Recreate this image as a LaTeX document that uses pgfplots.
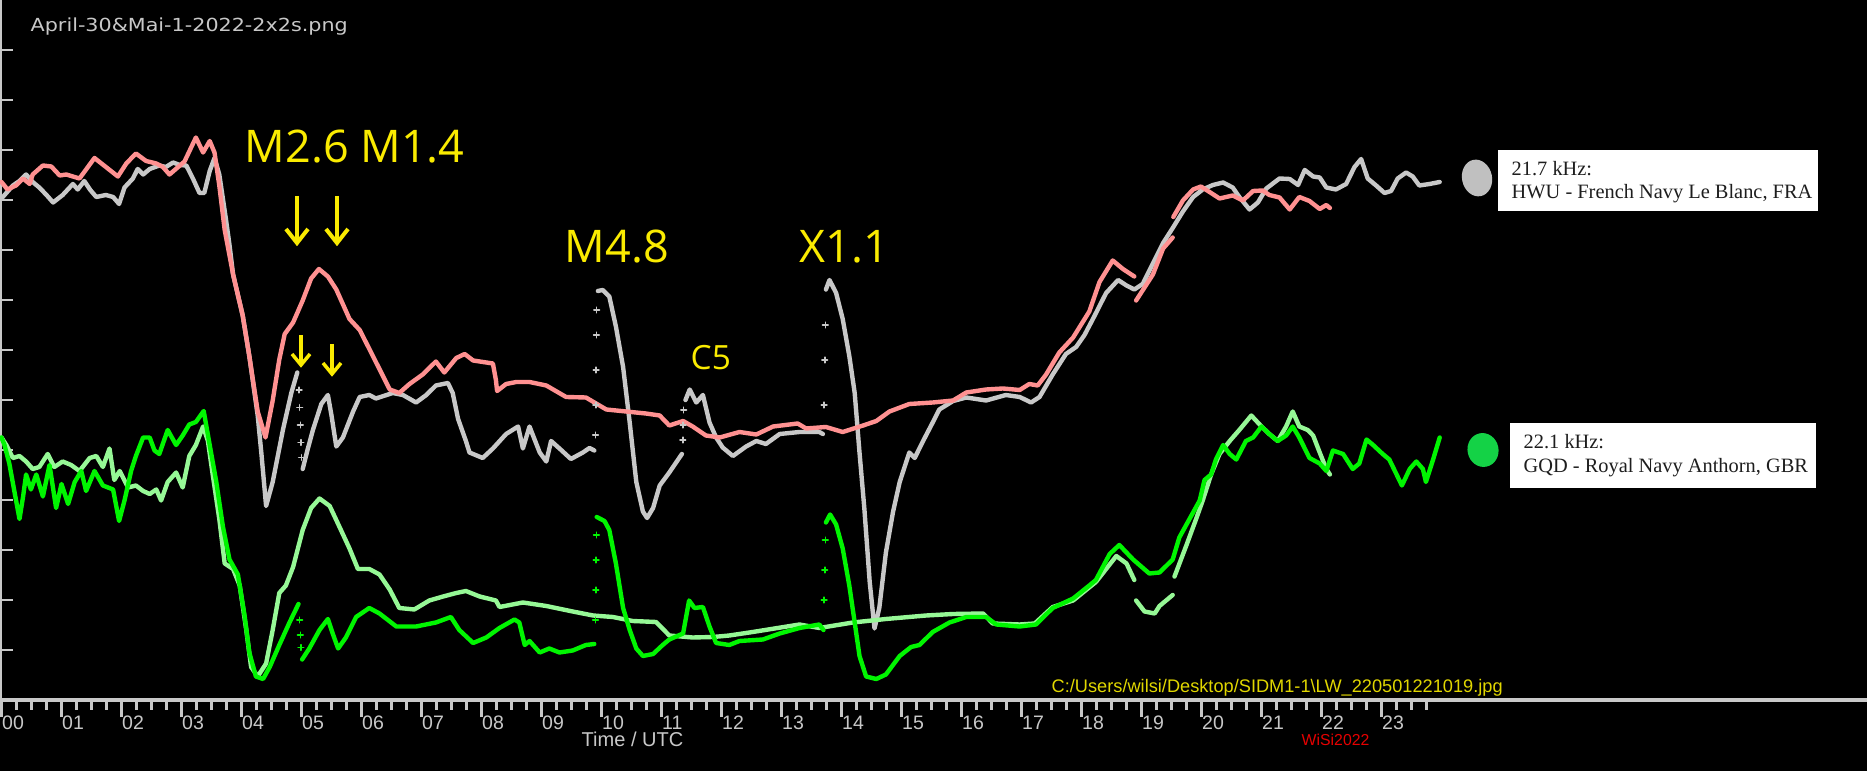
\documentclass[border=0pt]{standalone}
\usepackage{pgfplots}
\pgfplotsset{compat=1.18}
\usepackage{fontspec}
\setmainfont{Liberation Serif}
\newfontfamily\lsans{Liberation Sans}
\newfontfamily\dvsans{DejaVu Sans}
\newfontfamily\osans{Open Sans}
\definecolor{axgray}{RGB}{200,200,200}
\definecolor{cpink}{RGB}{255,145,145}
\definecolor{cgray}{RGB}{200,200,200}
\definecolor{clgreen}{RGB}{150,248,150}
\definecolor{cgreen}{RGB}{0,245,0}
\definecolor{cyel}{RGB}{250,235,0}
\definecolor{cyel2}{RGB}{225,215,0}
\definecolor{cred}{RGB}{230,0,0}
\definecolor{elgray}{RGB}{192,192,192}
\definecolor{elgreen}{RGB}{20,210,70}
\definecolor{legtext}{RGB}{30,30,30}
\begin{document}
\begin{tikzpicture}
\fill[black] (0,0) rectangle (186.7mm,77.1mm);
\useasboundingbox (0,0) rectangle (186.7mm,77.1mm);
\begin{axis}[
  at={(0mm,7.1mm)}, anchor=south west,
  scale only axis, width=186.7mm, height=70mm,
  xmin=-0.025, xmax=31.0917, ymin=0, ymax=14,
  axis x line=bottom, axis y line=left,
  x axis line style={-}, y axis line style={-},
  axis line style={draw=axgray, line width=0.9pt},
  xtick={0,...,23},
  xticklabels={00,01,02,03,04,05,06,07,08,09,10,11,12,13,14,15,16,17,18,19,20,21,22,23},
  minor xtick={0,0.25,...,23.75},
  ytick={1,...,13}, yticklabels={},
  xtick align=outside, ytick align=inside,
  xtick style={axgray, line width=0.6pt, /pgfplots/major tick length=1.7mm, /pgfplots/minor tick length=1.0mm},
  ytick style={axgray, line width=0.6pt, /pgfplots/major tick length=1.3mm},
  xticklabel style={font=\lsans\fontsize{5.55}{6}\selectfont, text=axgray, anchor=north west, inner sep=0pt},
  every axis plot/.append style={line join=round, line cap=round},
  unbounded coords=jump,
  clip=false,
]
% gray (HWU, flare day)
\addplot[cgray, line width=1.25pt] coordinates {
(0,10.03) (0.08,10.14) (0.19,10.29) (0.30,10.38) (0.41,10.51) (0.52,10.36) (0.63,10.25) (0.75,10.10) (0.86,9.95) (1.02,10.10) (1.19,10.32) (1.27,10.21) (1.38,10.38) (1.48,10.20) (1.58,10.06) (1.74,10.10) (1.86,10.06) (1.96,9.92) (2.05,10.25) (2.19,10.43) (2.27,10.62) (2.36,10.51) (2.47,10.62) (2.63,10.69) (2.74,10.66) (2.86,10.75) (2.97,10.70) (3.08,10.69) (3.19,10.43) (3.30,10.14) (3.38,10.14) (3.47,10.58) (3.55,10.84) (3.63,10.51) (3.74,9.62) (3.80,9.10) (3.86,8.51) (3.94,8.10) (4.02,7.69) (4.13,6.88) (4.27,5.69) (4.33,4.95) (4.41,3.88) (4.52,4.36) (4.69,5.40) (4.83,6.14) (4.93,6.55)
(4.94,nan)
(5.02,4.62) (5.10,5.00) (5.19,5.40) (5.33,5.92) (5.44,6.10) (5.50,5.69) (5.55,5.30) (5.58,5.07) (5.69,5.25) (5.86,5.77) (5.97,6.06) (6.13,6.10) (6.24,6.03) (6.52,6.14) (6.69,6.10) (6.91,5.95) (7.08,6.10) (7.24,6.29) (7.44,6.34) (7.52,6.14) (7.61,5.62) (7.74,5.18) (7.80,4.95) (8.02,4.84) (8.19,5.03) (8.41,5.32) (8.61,5.47) (8.69,5.03) (8.80,5.47) (8.97,4.95) (9.08,4.77) (9.16,5.18) (9.30,5.03) (9.49,4.82) (9.69,4.95) (9.80,5.04) (9.88,4.99)
(9.89,nan)
(9.94,8.18) (10.02,8.20) (10.13,8.07) (10.24,7.47) (10.36,6.66) (10.47,5.55) (10.58,4.36) (10.69,3.77) (10.76,3.64) (10.86,3.84) (10.97,4.29) (11.13,4.55) (11.34,4.92)
(11.35,nan)
(11.40,6.0) (11.47,6.21) (11.58,5.95) (11.69,6.10) (11.80,5.55) (11.91,5.25) (12.02,5.05) (12.19,4.88) (12.41,5.07) (12.58,5.18) (12.74,5.12) (12.97,5.32) (13.30,5.36) (13.63,5.36) (13.69,5.32)
(13.70,nan)
(13.74,8.21) (13.80,8.40) (13.91,8.14) (14.02,7.62) (14.13,6.88) (14.22,6.14) (14.30,4.95) (14.38,3.84) (14.47,2.36) (14.55,1.43) (14.63,1.84) (14.74,2.95) (14.86,3.77) (14.97,4.36) (15.13,4.95) (15.22,4.84) (15.36,5.18) (15.52,5.55) (15.63,5.81) (15.86,5.98) (16.08,6.05) (16.41,5.99) (16.74,6.10) (16.97,6.06) (17.16,5.95) (17.30,6.06) (17.52,6.51) (17.74,6.92) (17.91,7.06) (18.05,7.30) (18.19,7.62) (18.41,8.14) (18.61,8.40) (18.75,8.29) (18.88,8.21) (19.02,8.32) (19.19,8.73) (19.36,9.14) (19.52,9.44) (19.69,9.77) (19.86,10.06) (20.02,10.21) (20.19,10.30) (20.36,10.35) (20.52,10.25) (20.63,10.06) (20.80,9.81) (20.94,9.95) (21.08,10.23) (21.30,10.43) (21.47,10.42) (21.61,10.30) (21.72,10.60) (21.86,10.47) (21.97,10.45) (22.08,10.25) (22.24,10.21) (22.41,10.32) (22.55,10.66) (22.66,10.82) (22.77,10.43) (22.91,10.29) (23.05,10.14) (23.16,10.18) (23.27,10.43) (23.41,10.55) (23.52,10.47) (23.63,10.29) (23.80,10.32) (23.97,10.36)
};
\addplot[cgray, only marks, mark=+, mark size=0.8pt, mark options={line width=0.45pt}] coordinates {
(4.96,6.2) (4.97,5.85) (4.98,5.5) (4.99,5.15) (5.00,4.85)
(9.90,5.3) (9.905,5.9) (9.91,6.6) (9.915,7.3) (9.92,7.8)
(11.355,5.2) (11.36,5.5) (11.37,5.8)
(13.71,5.9) (13.72,6.8) (13.73,7.5)
};
% pink (HWU, other day)
\addplot[cpink, line width=1.25pt] coordinates {
(0,10.36) (0.10,10.21) (0.24,10.29) (0.36,10.43) (0.47,10.32) (0.52,10.51) (0.69,10.69) (0.83,10.67) (0.97,10.49) (1.08,10.51) (1.30,10.43) (1.55,10.84) (1.74,10.66) (1.94,10.47) (2.08,10.73) (2.24,10.93) (2.41,10.78) (2.58,10.73) (2.69,10.66) (2.80,10.51) (3.05,10.77) (3.24,11.25) (3.36,10.95) (3.47,11.18) (3.55,10.95) (3.63,10.29) (3.72,9.40) (3.86,8.51) (4.02,7.69) (4.13,6.88) (4.27,5.77) (4.40,5.25) (4.52,5.99) (4.63,6.81) (4.72,7.32) (4.86,7.55) (5.02,7.99) (5.16,8.43) (5.29,8.62) (5.44,8.47) (5.58,8.21) (5.80,7.62) (5.97,7.40) (6.19,6.88) (6.47,6.21) (6.63,6.14) (6.80,6.32) (7.02,6.51) (7.24,6.77) (7.38,6.55) (7.58,6.84) (7.72,6.92) (7.86,6.79) (8.19,6.73) (8.24,6.40) (8.26,6.18) (8.41,6.32) (8.58,6.36) (8.80,6.36) (9.08,6.29) (9.41,6.06) (9.74,6.05) (10.08,5.81) (10.41,5.77) (10.74,5.73) (10.97,5.69) (11.13,5.49) (11.36,5.58) (11.52,5.47) (11.74,5.29) (11.97,5.25) (12.30,5.36) (12.58,5.31) (12.86,5.47) (13.27,5.53) (13.41,5.43) (13.74,5.46) (14.02,5.36) (14.36,5.49) (14.58,5.58) (14.80,5.77) (15.13,5.92) (15.52,5.95) (15.86,5.99) (16.08,6.15) (16.41,6.21) (16.69,6.23) (16.97,6.20) (17.13,6.32) (17.27,6.29) (17.41,6.51) (17.63,6.95) (17.86,7.25) (18.13,7.77) (18.30,8.36) (18.52,8.79) (18.69,8.62) (18.88,8.47)
(18.89,nan)
(18.91,7.99) (19.19,8.51) (19.36,9.03) (19.52,9.25)
(19.525,nan)
(19.53,9.66) (19.69,9.99) (19.86,10.21) (19.99,10.27) (20.16,10.14) (20.30,10.03) (20.52,10.09) (20.69,9.99) (20.86,10.18) (21.02,10.19) (21.13,10.10) (21.30,10.05) (21.47,9.81) (21.63,10.06) (21.80,9.98) (21.97,9.82) (22.08,9.90) (22.14,9.84)
};
% light green (GQD, other day)
\addplot[clgreen, line width=1.25pt] coordinates {
(0,5.25) (0.08,5.10) (0.19,4.84) (0.30,4.88) (0.41,4.77) (0.52,4.62) (0.63,4.66) (0.77,4.92) (0.88,4.66) (1.02,4.77) (1.16,4.70) (1.30,4.58) (1.47,4.84) (1.58,4.88) (1.69,4.66) (1.80,5.03) (1.88,4.40) (1.97,4.58) (2.11,4.25) (2.24,4.29) (2.36,4.18) (2.47,4.12) (2.58,4.21) (2.66,3.99) (2.77,4.36) (2.91,4.55) (3.02,4.25) (3.13,4.88) (3.24,5.10) (3.36,5.47) (3.44,5.18) (3.52,4.51) (3.63,3.62) (3.72,2.73) (3.86,2.62) (3.97,2.29) (4.08,1.40) (4.16,0.66) (4.27,0.47) (4.41,0.73) (4.52,1.40) (4.63,2.14) (4.74,2.29) (4.86,2.66) (5.02,3.40) (5.16,3.84) (5.30,4.03) (5.47,3.88) (5.63,3.47) (5.80,3.03) (5.94,2.62) (6.13,2.62) (6.30,2.51) (6.47,2.21) (6.63,1.84) (6.88,1.81) (7.13,1.99) (7.36,2.07) (7.58,2.14) (7.74,2.18) (7.97,2.07) (8.24,1.99) (8.30,1.86) (8.69,1.95) (9.08,1.88) (9.52,1.77) (9.86,1.69) (10.19,1.66) (10.52,1.58) (10.91,1.56) (11.13,1.29) (11.52,1.25) (11.86,1.26) (12.13,1.29) (12.52,1.36) (13.30,1.51) (13.63,1.44) (14.19,1.55) (14.74,1.62) (15.41,1.69) (15.86,1.72) (16.36,1.73) (16.52,1.53) (16.97,1.51) (17.22,1.53) (17.52,1.86) (17.86,1.99) (18.24,2.36) (18.58,2.88) (18.75,2.73) (18.88,2.40)
(18.89,nan)
(18.91,1.99) (19.05,1.77) (19.22,1.73) (19.30,1.88) (19.52,2.10)
(19.53,nan)
(19.55,2.47) (19.75,3.10) (19.91,3.62) (20.02,3.99) (20.16,4.51) (20.30,4.92) (20.47,5.18) (20.63,5.40) (20.83,5.69) (21.00,5.47) (21.13,5.32) (21.27,5.18) (21.41,5.47) (21.52,5.77) (21.63,5.47) (21.77,5.40) (21.86,5.29) (21.97,4.95) (22.08,4.62) (22.14,4.51)
};
% bright green (GQD, flare day)
\addplot[cgreen, line width=1.25pt] coordinates {
(0,5.25) (0.05,5.10) (0.13,4.73) (0.22,4.14) (0.30,3.62) (0.36,4.07) (0.41,4.51) (0.49,4.21) (0.58,4.51) (0.69,4.07) (0.80,4.70) (0.91,3.84) (1.00,4.32) (1.11,3.92) (1.22,4.36) (1.33,4.58) (1.41,4.18) (1.55,4.58) (1.69,4.29) (1.86,4.21) (1.96,3.58) (2.05,3.99) (2.16,4.58) (2.24,4.88) (2.36,5.25) (2.47,5.25) (2.55,4.99) (2.63,4.92) (2.77,5.40) (2.91,5.10) (3.02,5.29) (3.13,5.51) (3.24,5.56) (3.37,5.78) (3.47,5.10) (3.58,4.36) (3.69,3.47) (3.80,2.81) (3.94,2.51) (4.05,1.70) (4.13,0.95) (4.24,0.47) (4.36,0.42) (4.47,0.66) (4.63,1.10) (4.80,1.55) (4.95,1.92)
(4.96,nan)
(5.01,0.81) (5.13,1.03) (5.30,1.40) (5.44,1.62) (5.52,1.33) (5.61,1.03) (5.74,1.25) (5.91,1.66) (6.13,1.84) (6.30,1.73) (6.58,1.47) (6.91,1.47) (7.24,1.55) (7.49,1.66) (7.63,1.40) (7.86,1.14) (8.08,1.25) (8.30,1.44) (8.55,1.61) (8.63,1.55) (8.72,1.10) (8.80,1.18) (8.97,0.95) (9.13,1.03) (9.30,0.95) (9.52,0.99) (9.74,1.10) (9.88,1.12)
(9.89,nan)
(9.92,3.66) (10.05,3.58) (10.13,3.40) (10.24,2.73) (10.36,1.84) (10.47,1.40) (10.58,1.03) (10.69,0.88) (10.86,0.92) (11.02,1.10) (11.13,1.21) (11.36,1.33) (11.46,1.99) (11.55,1.84) (11.69,1.86) (11.80,1.47) (11.91,1.14) (12.13,1.10) (12.30,1.18) (12.69,1.21) (12.97,1.33) (13.30,1.44) (13.63,1.51) (13.70,1.40)
(13.705,nan)
(13.74,3.55) (13.81,3.71) (13.91,3.51) (14.02,3.03) (14.13,2.29) (14.22,1.55) (14.30,0.88) (14.41,0.47) (14.58,0.42) (14.74,0.51) (14.97,0.88) (15.16,1.06) (15.30,1.10) (15.52,1.36) (15.80,1.55) (16.08,1.66) (16.41,1.66) (16.58,1.51) (16.97,1.47) (17.24,1.51) (17.52,1.84) (17.86,2.03) (18.13,2.29) (18.24,2.40) (18.47,2.92) (18.63,3.10) (18.86,2.81) (19.13,2.53) (19.30,2.55) (19.52,2.81) (19.63,3.25) (19.80,3.62) (19.97,3.99) (20.05,4.40) (20.16,4.51) (20.24,4.81) (20.36,5.10) (20.47,4.92) (20.58,4.81) (20.74,5.18) (20.86,5.25) (21.00,5.47) (21.13,5.32) (21.27,5.18) (21.41,5.29) (21.52,5.47) (21.63,5.25) (21.80,4.84) (21.97,4.73) (22.08,4.58) (22.19,4.99) (22.36,4.92) (22.52,4.62) (22.63,4.73) (22.75,5.21) (22.86,5.10) (23.02,4.92) (23.13,4.81) (23.34,4.29) (23.47,4.62) (23.58,4.77) (23.69,4.62) (23.74,4.36) (23.86,4.81) (23.97,5.25)
};
\addplot[cgreen, only marks, mark=+, mark size=0.8pt, mark options={line width=0.45pt}] coordinates {
(4.97,1.6) (4.98,1.3) (4.99,1.05)
(9.90,1.6) (9.905,2.2) (9.91,2.8) (9.915,3.3)
(13.71,2.0) (13.72,2.6) (13.73,3.2)
};
\end{axis}
\begin{scope}[x=0.1mm,y=0.1mm]
% title
\node[anchor=base west, inner sep=0pt, text=axgray, font=\dvsans\fontsize{5.12}{6}\selectfont] at (30,739) {\scalebox{1.15}[1]{April-30\&Mai-1-2022-2x2s.png}};
% flare labels
\node[anchor=base west, inner sep=0pt, text=cyel, font=\osans\fontsize{12.8}{14}\selectfont] at (244,608) {M2.6 M1.4};
\node[anchor=base west, inner sep=0pt, text=cyel, font=\osans\fontsize{12.8}{14}\selectfont] at (564,508) {M4.8};
\node[anchor=base west, inner sep=0pt, text=cyel, font=\osans\fontsize{12.8}{14}\selectfont] at (799,508) {X1.1};
\node[anchor=base west, inner sep=0pt, text=cyel, font=\osans\fontsize{9.5}{11}\selectfont] at (690,401) {C5};
% arrows
\draw[cyel, line width=0.4mm] (297,575) -- (297,530);
\draw[cyel, line width=0.4mm, line join=miter] (286,542) -- (297,528) -- (308,542);
\draw[cyel, line width=0.4mm] (337,575) -- (337,530);
\draw[cyel, line width=0.4mm, line join=miter] (326,542) -- (337,528) -- (348,542);
\draw[cyel, line width=0.35mm] (301,436) -- (301,408);
\draw[cyel, line width=0.35mm, line join=miter] (292,417) -- (301,406) -- (310,417);
\draw[cyel, line width=0.35mm] (332,427) -- (332,399);
\draw[cyel, line width=0.35mm, line join=miter] (323,408) -- (332,397) -- (341,408);
% bottom texts
\node[anchor=base west, inner sep=0pt, text=cyel2, font=\lsans\fontsize{5.18}{6}\selectfont] at (1051,78) {C:/Users/wilsi/Desktop/SIDM1-1\textbackslash LW\_220501221019.jpg};
\node[anchor=base west, inner sep=0pt, text=axgray, font=\lsans\fontsize{5.7}{6}\selectfont] at (581,24) {Time / UTC};
\node[anchor=base west, inner sep=0pt, text=cred, font=\lsans\fontsize{4.5}{5}\selectfont] at (1301,25) {WiSi2022};
% legend boxes
\fill[white] (1498,560) rectangle (1818,621);
\node[anchor=base west, inner sep=0pt, text=legtext, font=\fontsize{5.8}{6.5}\selectfont] at (1511,595) {21.7 kHz:};
\node[anchor=base west, inner sep=0pt, text=legtext, font=\fontsize{5.8}{6.5}\selectfont] at (1511,572) {HWU - French Navy Le Blanc, FRA};
\fill[elgray, rotate around={12:(1477,593)}] (1477,593) ellipse [x radius=15, y radius=18.5];
\fill[white] (1510,283) rectangle (1816,348);
\node[anchor=base west, inner sep=0pt, text=legtext, font=\fontsize{5.8}{6.5}\selectfont] at (1523,322) {22.1 kHz:};
\node[anchor=base west, inner sep=0pt, text=legtext, font=\fontsize{5.8}{6.5}\selectfont] at (1523,298) {GQD - Royal Navy Anthorn, GBR};
\fill[elgreen, rotate around={12:(1483,321)}] (1483,321) ellipse [x radius=15.5, y radius=17];
\end{scope}
\end{tikzpicture}
\end{document}
